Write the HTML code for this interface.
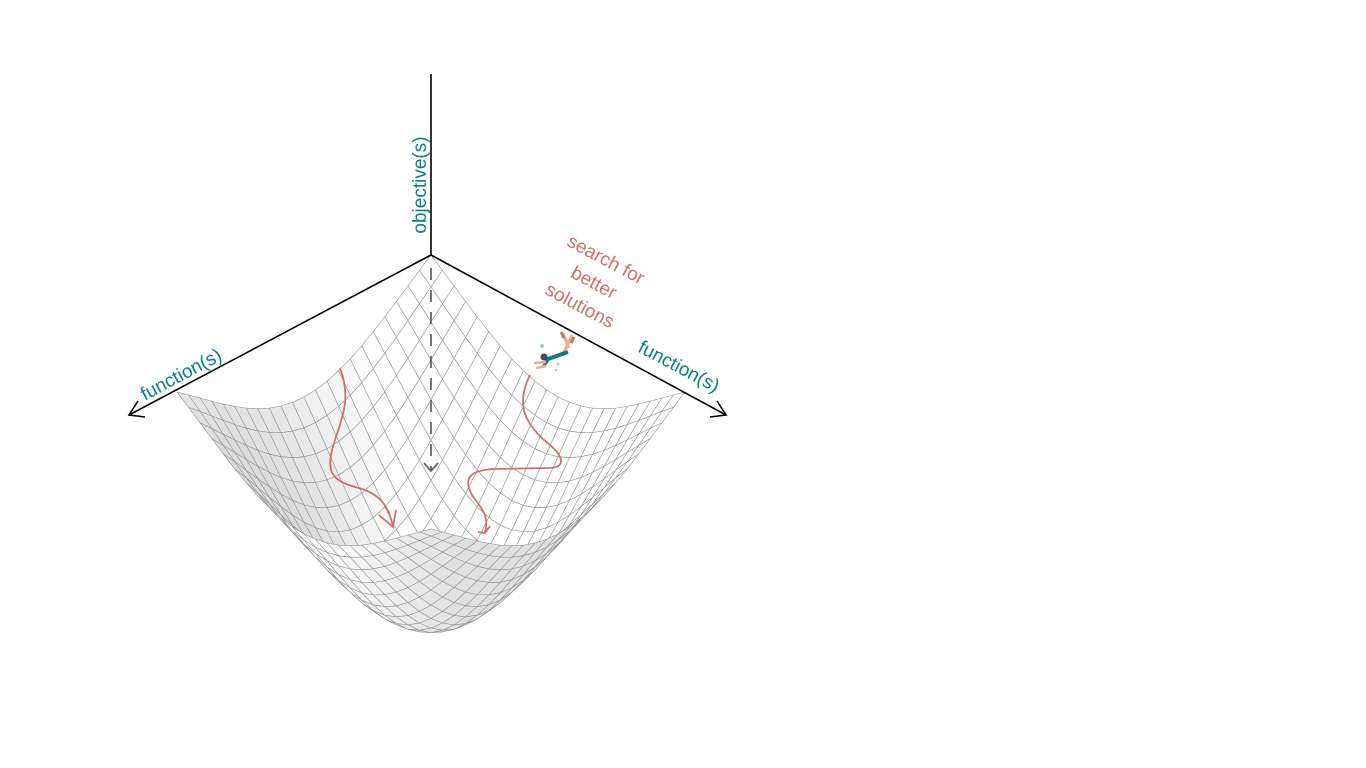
<!DOCTYPE html>
<html><head><meta charset="utf-8"><style>
html,body{margin:0;padding:0;background:#fff;}
svg{display:block;font-family:"Liberation Sans","DejaVu Sans",sans-serif;}
</style></head><body>
<svg id="chart" width="1366" height="768" viewBox="0 0 1366 768">
<g id="surface"></g>
<g stroke="#000" stroke-width="1.6" fill="none">
<line x1="431" y1="74" x2="431" y2="255"/>
<line x1="431" y1="255" x2="129" y2="415"/>
<line x1="431" y1="255" x2="726" y2="415"/>
<polyline points="138,401 129,415 145,417"/>
<polyline points="717,401 726,415 710,417"/>
</g>
<g stroke="#666" stroke-width="1.8" fill="none">
<line x1="431" y1="268" x2="431" y2="470" stroke-dasharray="12,10"/>
<polyline points="424,463 431,471 438,463"/>
</g>
<g stroke="#d0706a" stroke-width="1.8" fill="none">
<path d="M340,368 C350,395 345,410 335,440 C325,470 330,480 355,487 C380,493 388,505 393,526"/>
<polyline points="379,515 393,527 396,510"/>
<path d="M530,375 C515,405 525,425 550,445 C565,458 565,468 548,468 L495,469 C465,470 465,482 472,495 C480,507 490,515 485,532"/>
<polyline points="478,532 485,533 490,526"/>
</g>
<g>
<line x1="563" y1="333" x2="569" y2="348" stroke="#e6b08a" stroke-width="3"/>
<line x1="572" y1="335" x2="564" y2="352" stroke="#e6b08a" stroke-width="3"/>
<line x1="561" y1="332" x2="564" y2="338" stroke="#d0706a" stroke-width="3"/>
<line x1="574" y1="337" x2="571" y2="343" stroke="#d0706a" stroke-width="3"/>
<line x1="568" y1="352" x2="545" y2="360" stroke="#137885" stroke-width="4"/>
<line x1="548" y1="360" x2="543" y2="367" stroke="#137885" stroke-width="3"/>
<circle cx="544" cy="357" r="3.5" fill="#3d4a63"/>
<line x1="534" y1="363" x2="546" y2="362" stroke="#e6b08a" stroke-width="2.5"/>
<line x1="536" y1="368" x2="546" y2="366" stroke="#e6b08a" stroke-width="2.5"/>
<circle cx="542" cy="346" r="2" fill="#9cc4ee"/>
<circle cx="558" cy="364" r="1.3" fill="#9cc4ee"/>
<circle cx="556" cy="370" r="1.2" fill="#9cc4ee"/>
</g>
<g fill="#0a7d8c" font-size="19">
<text transform="translate(426,185) rotate(-90)" text-anchor="middle">objective(s)</text>
<text transform="translate(184,380) rotate(-28)" text-anchor="middle">function(s)</text>
<text transform="translate(676,372) rotate(28)" text-anchor="middle">function(s)</text>
</g>
<g fill="#d0706a" font-size="19" text-anchor="middle">
<text transform="translate(603,265) rotate(28)">search for</text>
<text transform="translate(591,288) rotate(28)">better</text>
<text transform="translate(577,311) rotate(28)">solutions</text>
</g>
</svg>
<script>
// surface parameters (model of the objective landscape)
const gridDivisions = [22];
const bowlWidth = [1.32];
const bowlDepth = [295];
(function(){
  const N = gridDivisions[0], s = bowlWidth[0], D = bowlDepth[0];
  const W = 127, H = 68.5, cx = 431, Y0 = 392;
  const base = Math.exp(-2/s);
  function P(u,v){
    const d = D*(Math.exp(-(u*u+v*v)/s) - base);
    return [cx + (u-v)*W, Y0 + (u+v)*H + d];
  }
  const g = document.getElementById('surface');
  const ns = 'http://www.w3.org/2000/svg';
  const quads = [];
  for (let i=0;i<N;i++) for (let j=0;j<N;j++){
    const u0=-1+2*i/N, u1=-1+2*(i+1)/N, v0=-1+2*j/N, v1=-1+2*(j+1)/N;
    quads.push({u0,u1,v0,v1,k:u0+v0+u1+v1});
  }
  quads.sort((a,b)=>a.k-b.k);
  const L=[-0.3,1.2,1.2]; const Ln=Math.hypot(...L);
  quads.forEach(q=>{
    const a=P(q.u0,q.v0), b=P(q.u1,q.v0), c=P(q.u1,q.v1), e=P(q.u0,q.v1);
    const area=(b[0]-a[0])*(e[1]-a[1])-(b[1]-a[1])*(e[0]-a[0]);
    const um=(q.u0+q.u1)/2, vm=(q.v0+q.v1)/2;
    const ex=Math.exp(-(um*um+vm*vm)/s)*2/s*1.2;
    let gray;
    if(area>=0){
      const n=[-um*ex, -vm*ex, 1];
      const dot=(n[0]*L[0]+n[1]*L[1]+n[2]*L[2])/(Math.hypot(...n)*Ln);
      const t=Math.max(0,Math.min(1,(dot-0.15)/0.5));
      gray=Math.round(220+35*t);
    } else {
      const t=Math.max(0,Math.min(1,(vm-um)*0.9+0.2));
      gray=Math.round(224+30*t);
    }
    const p=document.createElementNS(ns,'polygon');
    p.setAttribute('points',[a,b,c,e].map(pt=>pt[0].toFixed(1)+','+pt[1].toFixed(1)).join(' '));
    p.setAttribute('fill','rgb('+gray+','+gray+','+gray+')');
    p.setAttribute('stroke','#8f8f8f');
    p.setAttribute('stroke-width','0.55');
    p.setAttribute('stroke-linejoin','round');
    
    
    g.appendChild(p);
  });
})();
</script>
</body></html>
